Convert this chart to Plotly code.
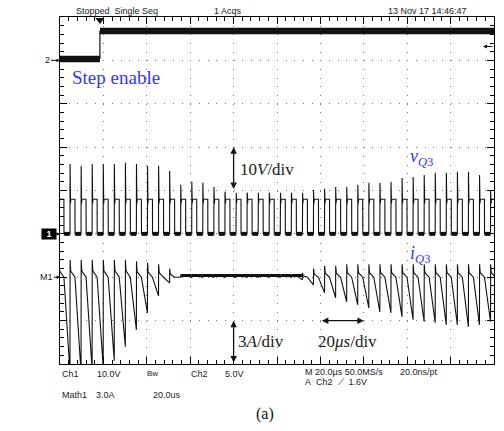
import plotly.graph_objects as go

# ---------------- data ----------------
US_PER_DIV = 20.0          # time base
V_PER_DIV_CH1 = 10.0       # vQ3
V_PER_DIV_CH2 = 5.0        # step enable
A_PER_DIV_M1 = 3.0         # iQ3
CH1_GND = -1.0             # divisions (marker "1")
CH2_GND = 3.0              # divisions (marker "2")
M1_GND = -2.0              # divisions (marker "M1")
TRIG_LEVEL_V = 1.6

T_PERIOD = 5.1             # µs per switching cycle
T_FIRST_RISE = -0.5        # µs, rising edge of cycle k=-1
T_HIGH = 2.3               # µs, vQ3 high time per cycle

CH2_LOW_V = 0.15
CH2_HIGH_V = 3.4
CH2_STEP_T = 18.4          # µs

VQ3_PLATEAU = 8.0          # V
VQ3_PEAK = [16.0, 16.1, 15.7, 16.1, 16.1, 16.1, 16.4, 16.1, 15.7, 15.7,
            14.5, 11.3, 12.1, 11.8, 10.8, 9.7, 9.4, 9.4, 9.0, 9.0,
            9.0, 9.0, 9.0, 10.1, 10.4, 10.8, 10.8, 11.3, 11.8, 11.8,
            12.0, 12.9, 13.1, 13.6, 14.1, 14.1, 14.3, 14.3, 13.6, 10.0]

IQ3_MIN = [-6.6, -6.6, -6.6, -6.4, -6.2, -5.77, -4.81, -3.64, -2.46, -1.29,
           -0.39, 0.0, 0.0, 0.0, 0.0, 0.0, 0.0, 0.0, 0.0, 0.0,
           0.0, 0.0, -0.18, -0.53, -1.08, -1.42, -1.70, -1.91, -2.12, -2.39,
           -2.46, -2.74, -2.94, -3.08, -3.15, -3.29, -3.29, -3.43, -3.29, -3.08]
IQ3_SPIKE = [1.2, 1.2, 1.2, 1.2, 1.2, 1.2, 1.2, 1.1, 1.0, 0.9,
             0.6, 0.0, 0.0, 0.0, 0.0, 0.0, 0.0, 0.0, 0.0, 0.0,
             0.0, 0.0, 0.3, 0.6, 0.8, 0.8, 0.9, 0.9, 0.9, 0.9,
             0.9, 0.9, 0.9, 0.9, 0.9, 0.9, 0.9, 0.9, 0.9, 0.9]
IQ3_FLAT = 0.12

BLUE = "#3535f5"
INK = "#111111"
SANS = "Liberation Sans"
SERIF = "Liberation Serif"

# ---------------- build traces ----------------
def ch1(v):
    return CH1_GND + v / V_PER_DIV_CH1

def ch2(v):
    return CH2_GND + v / V_PER_DIV_CH2

def m1(i):
    return M1_GND + i / A_PER_DIV_M1

n = len(VQ3_PEAK)
rises = [T_FIRST_RISE + k * T_PERIOD for k in range(n)]

vx, vy = [], []
bx, by = [], []
for k in range(n):
    tr = rises[k]
    tf = tr + T_HIGH
    nxt = rises[k + 1] if k + 1 < n else 205.0
    pk = VQ3_PEAK[k]
    vx += [tr, tr + 0.04, tr + 0.12, tr + 0.25, tr + 0.4, tf, tf + 0.04, nxt]
    vy += [ch1(0), ch1(pk), ch1(VQ3_PLATEAU + 1.5), ch1(VQ3_PLATEAU - 1.0),
           ch1(VQ3_PLATEAU), ch1(VQ3_PLATEAU), ch1(0), ch1(0)]
    bx += [tf + 0.1, nxt - 0.05, None]
    by += [ch1(0), ch1(0), None]

ix, iy = [], []
fx, fy = [], []
for k in range(n):
    tr = rises[k]
    tf = tr + T_HIGH
    base = IQ3_FLAT if IQ3_MIN[k] == 0.0 else 0.0
    ix += [tr, tr + 0.05, tr + 0.35, tf]
    iy += [m1(IQ3_MIN[k]), m1(IQ3_SPIKE[k] + base), m1(0.35 * IQ3_SPIKE[k] + base), m1(base)]
    if IQ3_MIN[k] == 0.0:
        nxt = rises[k + 1] if k + 1 < n else 205.0
        fx += [tr, nxt, None]
        fy += [m1(IQ3_FLAT), m1(IQ3_FLAT), None]

fig = go.Figure()

# Ch2 step enable
fig.add_trace(go.Scatter(x=[0, CH2_STEP_T, None, CH2_STEP_T, 200],
                         y=[ch2(CH2_LOW_V), ch2(CH2_LOW_V), None, ch2(CH2_HIGH_V), ch2(CH2_HIGH_V)],
                         mode="lines", line=dict(color=INK, width=6.5), hoverinfo="skip"))
fig.add_trace(go.Scatter(x=[CH2_STEP_T, CH2_STEP_T], y=[ch2(CH2_LOW_V), ch2(CH2_HIGH_V)],
                         mode="lines", line=dict(color=INK, width=1.2), hoverinfo="skip"))
# vQ3
fig.add_trace(go.Scatter(x=bx, y=by, mode="lines", line=dict(color=INK, width=4), hoverinfo="skip"))
fig.add_trace(go.Scatter(x=vx, y=vy, mode="lines", line=dict(color=INK, width=1.1), hoverinfo="skip"))
# iQ3
fig.add_trace(go.Scatter(x=fx, y=fy, mode="lines", line=dict(color=INK, width=3), hoverinfo="skip"))
fig.add_trace(go.Scatter(x=ix, y=iy, mode="lines", line=dict(color=INK, width=1.1), hoverinfo="skip"))
# trigger position marker
fig.add_trace(go.Scatter(x=[CH2_STEP_T], y=[3.93], mode="markers", cliponaxis=False,
                         marker=dict(symbol="triangle-down", size=8, color=INK), hoverinfo="skip"))

W, H = 504, 431
L, R, T, B = 60, 494, 17, 364

def px(xp):
    return (xp - L) / (R - L)

def py(yp):
    return (B - yp) / (B - T)

ann = []

def text(xp, yp, s, size=9, font=SANS, color="#1a1a1a", anchor="left"):
    ann.append(dict(x=px(xp), y=py(yp), xref="paper", yref="paper", text=s, showarrow=False,
                    xanchor=anchor, yanchor="middle", font=dict(family=font, size=size, color=color)))

# scope status lines
text(74, 11, "Stopped&nbsp;&nbsp;Single Seq")
text(212, 11, "1 Acqs")
text(386, 11, "13 Nov 17 14:46:47")
text(60, 374, "Ch1")
text(95, 374, "10.0V")
text(145, 373, "Bw", size=8)
text(189, 374, "Ch2")
text(223, 374, "5.0V")
text(303, 372, "M 20.0µs 50.0MS/s")
text(398, 372, "20.0ns/pt")
text(303, 382, "A&nbsp;&nbsp;Ch2&nbsp;&nbsp;⟋&nbsp;&nbsp;1.6V")
text(60, 395, "Math1")
text(94, 395, "3.0A")
text(151, 395, "20.0us")

# LaTeX-style labels
text(70, 77, "Step enable", size=19, font=SERIF, color=BLUE)
text(238, 169, "10<i>V</i>/div", size=17, font=SERIF, color="#222")
text(408, 157, "<i>v</i><sub><i>Q</i>3</sub>", size=18, font=SERIF, color=BLUE)
text(408, 254, "<i>i</i><sub><i>Q</i>3</sub>", size=18, font=SERIF, color=BLUE)
text(236, 341, "3<i>A</i>/div", size=17, font=SERIF, color="#222")
text(316, 341, "20<i>μs</i>/div", size=17, font=SERIF, color="#222")
text(265, 414, "(a)", size=16, font=SERIF, color="#111", anchor="center")

# channel markers
ann.append(dict(x=0, y=CH2_GND, xref="x", yref="y", text="2", showarrow=True, ax=-13, ay=0,
                arrowhead=2, arrowsize=0.7, arrowwidth=1, arrowcolor=INK, standoff=0,
                font=dict(family=SANS, size=9, color="#1a1a1a")))
ann.append(dict(x=0, y=CH1_GND, xref="x", yref="y", text="<b>1</b>", showarrow=True, ax=-11, ay=0,
                arrowhead=2, arrowsize=0.7, arrowwidth=1, arrowcolor=INK, standoff=0,
                bgcolor="black", width=12, height=8, borderpad=1,
                font=dict(family=SANS, size=9, color="white")))
ann.append(dict(x=0, y=M1_GND, xref="x", yref="y", text="M1", showarrow=True, ax=-14, ay=0,
                arrowhead=2, arrowsize=0.7, arrowwidth=1, arrowcolor=INK, standoff=0,
                font=dict(family=SANS, size=9, color="#1a1a1a")))
# trigger level
ann.append(dict(x=194.9, y=ch2(TRIG_LEVEL_V), xref="x", yref="y", text="", showarrow=True,
                ax=11, ay=0, arrowhead=2, arrowsize=0.8, arrowwidth=1, arrowcolor=INK, standoff=0))
# scale arrows
for (x0, y0, x1, y1) in [(80, 0, 80, 1), (80, -4, 80, -3), (120, -3, 140, -3)]:
    ann.append(dict(x=x1, y=y1, ax=x0, ay=y0, xref="x", yref="y", axref="x", ayref="y", text="",
                    showarrow=True, arrowhead=2, arrowside="end+start", arrowsize=1,
                    arrowwidth=1.3, arrowcolor=INK, standoff=0, startstandoff=0))

axis_common = dict(showline=True, linecolor="black", linewidth=1, mirror="allticks",
                   ticks="inside", ticklen=7, tickcolor="black", tickwidth=1,
                   showticklabels=False, zeroline=False, showgrid=True,
                   gridcolor="#777777", gridwidth=1, griddash="1px,7.68px", fixedrange=True)

fig.update_layout(
    width=W, height=H,
    margin=dict(l=L, r=W - R, t=T, b=H - B),
    paper_bgcolor="white", plot_bgcolor="white",
    showlegend=False,
    xaxis=dict(range=[0, 200], dtick=US_PER_DIV, tick0=0,
               minor=dict(dtick=4, ticks="inside", ticklen=4, tickcolor="black", showgrid=False),
               **axis_common),
    yaxis=dict(range=[-4, 4], dtick=1, tick0=0,
               minor=dict(dtick=0.2, ticks="inside", ticklen=4, tickcolor="black", showgrid=False),
               **axis_common),
    annotations=ann,
)

fig.write_html("out.html", config={"displayModeBar": False},
               post_script="document.body.style.margin='0';document.body.style.padding='0';")
